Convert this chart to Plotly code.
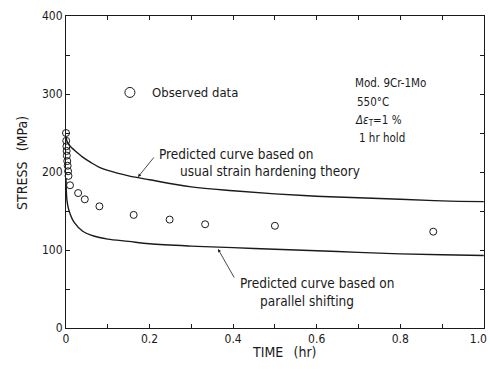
import plotly.graph_objects as go

# Observed data
obs_time = [0, 0.0005, 0.001, 0.0015, 0.002, 0.003, 0.004, 0.005, 0.006, 0.0096,
            0.029, 0.045, 0.08, 0.162, 0.248, 0.333, 0.5, 0.879]
obs_stress = [250, 240, 233, 227, 221, 214, 208, 201, 195, 183,
              173, 165, 156, 145, 139, 133, 131, 123.5]

# Predicted curves
curve_time = [0, 0.002, 0.005, 0.01, 0.02, 0.04, 0.06, 0.08, 0.1, 0.15, 0.2,
              0.3, 0.4, 0.5, 0.6, 0.7, 0.8, 0.9, 1.0]
strain_hardening = [245, 240, 237, 233, 228, 219, 212, 206, 202, 195, 190,
                    181, 176, 172, 169, 167, 165, 163, 162]
parallel_shift = [192, 165, 155, 146, 135, 124, 119, 116, 114, 111, 108,
                  105, 103, 101, 99, 97, 95, 94, 93]

x_tickvals = [0, 0.2, 0.4, 0.6, 0.8, 1.0]
x_ticktext = ["0", "0.2", "0.4", "0.6", "0.8", "1.0\u2003"]
y_tickvals = [0, 100, 200, 300, 400]
y_ticktext = ["0", "100", "200", "300", "400"]

FONT = "DejaVu Sans Condensed, Liberation Sans Narrow, sans-serif"
INK = "#1a1a1a"

fig = go.Figure()
fig.add_trace(go.Scatter(x=curve_time, y=strain_hardening, mode="lines",
                         line=dict(color=INK, width=1.4, shape="spline"),
                         showlegend=False))
fig.add_trace(go.Scatter(x=curve_time, y=parallel_shift, mode="lines",
                         line=dict(color=INK, width=1.4, shape="spline"),
                         showlegend=False))
fig.add_trace(go.Scatter(x=obs_time, y=obs_stress, mode="markers",
                         marker=dict(symbol="circle-open", size=7, color=INK,
                                     line=dict(width=1, color=INK)),
                         cliponaxis=False, showlegend=False))
# legend-like marker
fig.add_trace(go.Scatter(x=[0.153], y=[302], mode="markers",
                         marker=dict(symbol="circle-open", size=10, color=INK,
                                     line=dict(width=1, color=INK)),
                         showlegend=False))

axis_common = dict(showgrid=False, zeroline=False, showline=True, linecolor=INK,
                   linewidth=1, mirror="ticks", ticks="inside", ticklen=4,
                   tickcolor=INK, tickwidth=1, automargin=False,
                   tickfont=dict(family=FONT, size=12, color=INK))

fig.update_xaxes(range=[0, 1.0005], tickvals=x_tickvals, ticktext=x_ticktext,
                 ticklabeloverflow="allow",
                 minor=dict(dtick=0.1, ticks="inside", ticklen=4, tickcolor=INK),
                 **axis_common)
fig.update_yaxes(range=[0, 400], tickvals=y_tickvals, ticktext=y_ticktext,
                 minor=dict(dtick=50, ticks="inside", ticklen=4, tickcolor=INK),
                 **axis_common)

ann = []
def txt(x, y, s, size=12.5, xanchor="left", **kw):
    ann.append(dict(x=x, y=y, xref="paper", yref="paper", text=s, showarrow=False,
                    xanchor=xanchor, yanchor="middle",
                    font=dict(family=FONT, size=size, color=INK), **kw))

W, H = 490, 369
L, R, T, B = 66, 484, 16, 328
def px(xp, yp):
    return (xp - L) / (R - L), (B - yp) / (B - T)

# axis titles
x0, y0 = px(284, 352)
txt(x0, y0, "TIME\u2002 (hr)", size=14, xanchor="center")
x0, y0 = px(22, 163)
txt(x0, y0, "STRESS\u2002 (MPa)", size=14, xanchor="center", textangle=-90)

# legend text
x0, y0 = px(150, 92)
txt(x0, y0, "Observed data", size=13)

# material info
for (xp, yp, s) in [(353, 83, "Mod. 9Cr-1Mo"), (355, 102, "550°C"),
                    (353, 120, "<i>Δε</i><sub>T</sub>=1 %"), (357, 138, "1 hr hold")]:
    x0, y0 = px(xp, yp)
    txt(x0, y0, s, size=11.5)

# curve labels
x0, y0 = px(157, 154)
txt(x0, y0, "Predicted curve based on", size=13.5)
x0, y0 = px(178, 171)
txt(x0, y0, "usual strain hardening theory", size=13.5)
x0, y0 = px(238, 283)
txt(x0, y0, "Predicted curve based on", size=13.5)
x0, y0 = px(258, 301)
txt(x0, y0, "parallel shifting", size=13.5)

# arrows (tail offsets in pixels)
tx1, ty1 = px(138, 177)
ann.append(dict(x=tx1, y=ty1, xref="paper", yref="paper", ax=17, ay=-21,
                showarrow=True, arrowhead=2,
                arrowsize=0.8, arrowwidth=0.8, arrowcolor=INK, text=""))
tx2, ty2 = px(218, 249)
ann.append(dict(x=tx2, y=ty2, xref="paper", yref="paper", ax=17, ay=30,
                showarrow=True, arrowhead=2,
                arrowsize=0.8, arrowwidth=0.8, arrowcolor=INK, text=""))

fig.update_layout(width=W, height=H, margin=dict(l=L, r=W - R, t=T, b=H - B),
                  paper_bgcolor="white", plot_bgcolor="white",
                  annotations=ann, showlegend=False)

fig.write_html("out.html")
